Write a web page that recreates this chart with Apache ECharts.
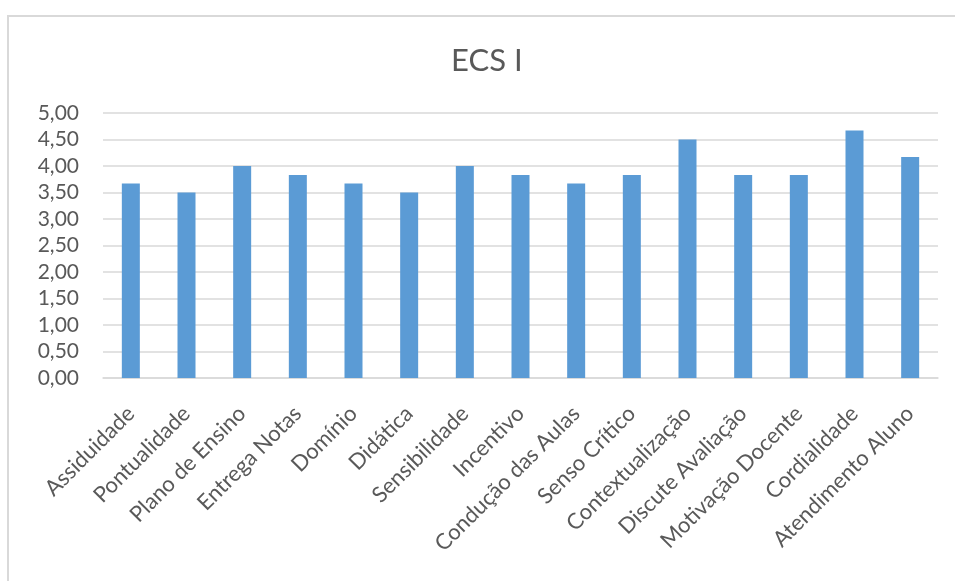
<!DOCTYPE html>
<html>
<head>
<meta charset="utf-8">
<script src="https://cdn.jsdelivr.net/npm/echarts@6/dist/echarts.min.js"></script>
<style>
    html, body { margin: 0; padding: 0; background: #fff; }
    #frame { position: absolute; left: 7px; top: 15px; width: 1000px; height: 700px; border: 2px solid #d9d9d9; box-sizing: border-box; }
    #js_chart { position: absolute; left: 0; top: 0; width: 955px; height: 581px; }
</style>
</head>
<body>
<div id="frame"></div>
<div id="js_chart"></div>
<script>
    // categorias e médias
    var categorias = ['Assiduidade', 'Pontualidade', 'Plano de Ensino', 'Entrega Notas', 'Domínio', 'Didática',
        'Sensibilidade', 'Incentivo', 'Condução das Aulas', 'Senso Crítico', 'Contextualização',
        'Discute Avaliação', 'Motivação Docente', 'Cordialidade', 'Atendimento Aluno'];
    var medias = [3.67, 3.5, 4.0, 3.83, 3.67, 3.5, 4.0, 3.83, 3.67, 3.83, 4.5, 3.83, 3.83, 4.67, 4.17];
    var titulo = 'ECS I';

    var fonte = 'Lato, "Open Sans", sans-serif';
    var option = {
        animation: false,
        title: {
            text: titulo,
            left: 446,
            top: 40,
            textStyle: { fontFamily: fonte, fontSize: 31, fontWeight: 'normal', color: '#595959' }
        },
        grid: { left: 103, right: 17, top: 113, bottom: 203 },
        xAxis: [{
            type: 'category',
            data: categorias,
            axisLine: { lineStyle: { color: '#d9d9d9', width: 1.5 } },
            axisTick: { show: false },
            axisLabel: {
                interval: 0,
                rotate: 45,
                margin: 32,
                color: '#595959',
                fontFamily: fonte,
                fontSize: 22
            }
        }],
        yAxis: [{
            type: 'value',
            min: 0,
            max: 5,
            interval: 0.5,
            axisLine: { show: false },
            axisTick: { show: false },
            splitLine: { lineStyle: { color: '#d9d9d9', width: 1.5 } },
            axisLabel: {
                margin: 24,
                color: '#595959',
                fontFamily: fonte,
                fontSize: 21,
                formatter: function(v) { return v.toFixed(2).replace('.', ','); }
            }
        }],
        series: [{
            name: titulo,
            type: 'bar',
            barWidth: 18,
            itemStyle: { color: '#5b9bd5' },
            data: medias
        }]
    };
    var chart = echarts.init(document.getElementById('js_chart'));
    chart.setOption(option, true);
</script>
</body>
</html>
